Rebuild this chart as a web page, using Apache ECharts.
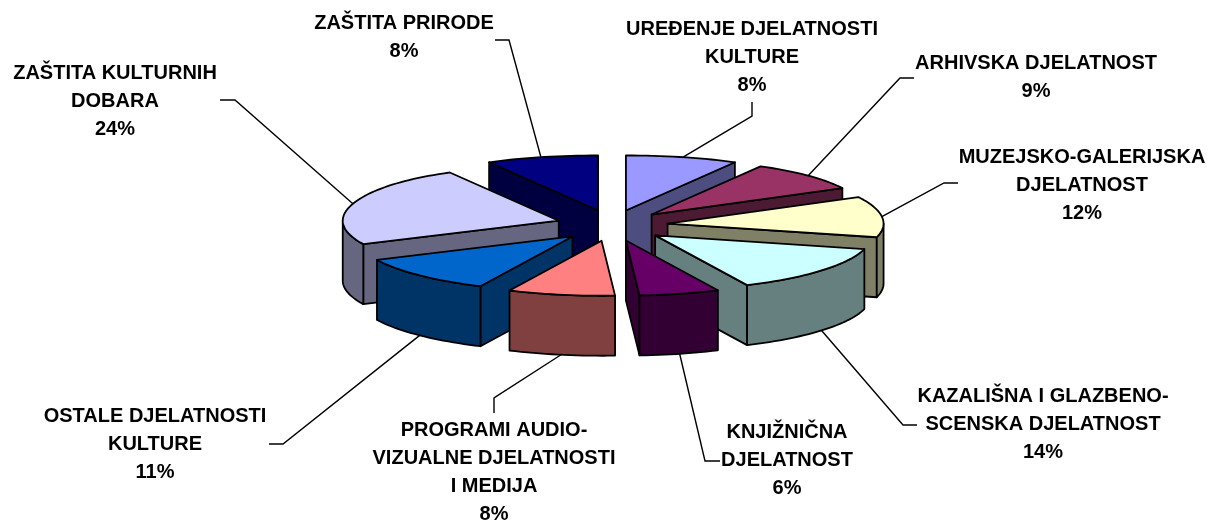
<!DOCTYPE html>
<html>
<head>
<meta charset="utf-8">
<style>
  html, body { margin: 0; padding: 0; background: #fff; }
  #chart { width: 1208px; height: 526px; }
</style>
<script src="https://cdn.jsdelivr.net/npm/echarts@6/dist/echarts.min.js"></script>
</head>
<body>
<div id="chart"></div>
<script>
// clockwise from 12 o'clock
const categories = [
  'UREĐENJE DJELATNOSTI\nKULTURE',
  'ARHIVSKA DJELATNOST',
  'MUZEJSKO-GALERIJSKA\nDJELATNOST',
  'KAZALIŠNA I GLAZBENO-\nSCENSKA DJELATNOST',
  'KNJIŽNIČNA\nDJELATNOST',
  'PROGRAMI AUDIO-\nVIZUALNE DJELATNOSTI\nI MEDIJA',
  'OSTALE DJELATNOSTI\nKULTURE',
  'ZAŠTITA KULTURNIH\nDOBARA',
  'ZAŠTITA PRIRODE'
];
const shares = [8, 9, 12, 14, 6, 8, 11, 24, 8];
const topColors = ['#9999FF', '#993366', '#FFFFCC', '#CCFFFF', '#660066', '#FF8080', '#0066CC', '#CCCCFF', '#000080'];
const sideColors = ['#4D4D80', '#4D1A33', '#808066', '#668080', '#330033', '#804040', '#003366', '#666680', '#000040'];

// label centre and the bent end of each leader line
const labelPos = [[752, 29], [1036, 63], [1082, 157], [1043, 396], [787, 432], [494, 430], [155, 416], [115, 73], [404, 23]];
const leaderEnds = [
  [[752, 102], [752, 116]],
  [[914, 78], [900, 78]],
  [[958, 183], [944, 183]],
  [[917, 425], [903, 425]],
  [[720, 461], [705, 461]],
  [[494, 413], [494, 398]],
  [[269, 444], [283, 444]],
  [[220, 100], [235, 100]],
  [[495, 40], [509, 40]]
];

const cx = 612, cy = 225.5;     // pie centre
const rx = 216, ry = 55;        // top ellipse
const ex = 56, ey = 15.5;       // explosion
const depth = 60;
const lineH = 28;
const total = shares.reduce((a, b) => a + b, 0);

function pt(ox, oy, a) {
  // back of the pie reads a bit wider in the original
  const back = Math.max(Math.cos(a), 0);
  const k = 1 + 0.07 * back * back * back;
  return [ox + rx * k * Math.sin(a), oy - ry * Math.cos(a)];
}
function down(p) {
  return [p[0], p[1] + depth];
}
function arc(ox, oy, a0, a1) {
  const pts = [];
  const n = Math.max(2, Math.ceil((a1 - a0) / 0.03));
  for (let i = 0; i <= n; i++) pts.push(pt(ox, oy, a0 + (a1 - a0) * i / n));
  return pts;
}
function poly(points, fill) {
  return {
    type: 'polygon',
    shape: { points: points },
    style: { fill: fill, stroke: '#000', lineWidth: 1.8, lineJoin: 'round' }
  };
}

let acc = 0;
const slices = shares.map(function (v, i) {
  const a0 = acc / total * Math.PI * 2;
  acc += v;
  const a1 = acc / total * Math.PI * 2;
  return { i: i, a0: a0, a1: a1, mid: (a0 + a1) / 2 };
});
// back slices are painted first
const order = slices.slice().sort(function (p, q) {
  return Math.cos(q.mid) - Math.cos(p.mid);
});

function renderSlice(params, api) {
  const s = slices[api.value(0)];
  const ox = cx + ex * Math.sin(s.mid);
  const oy = cy - ey * Math.cos(s.mid);
  const apex = [ox, oy];
  const children = [];

  // cut faces, only the ones turned towards the viewer
  if (Math.sin(s.a0) < -1e-6) {
    const p = pt(ox, oy, s.a0);
    children.push(poly([apex, p, down(p), down(apex)], sideColors[s.i]));
  }
  if (Math.sin(s.a1) > 1e-6) {
    const p = pt(ox, oy, s.a1);
    children.push(poly([apex, p, down(p), down(apex)], sideColors[s.i]));
  }
  // outer wall, front half of the ellipse only
  const w0 = Math.max(s.a0, Math.PI / 2);
  const w1 = Math.min(s.a1, Math.PI * 1.5);
  if (w1 > w0) {
    const top = arc(ox, oy, w0, w1);
    children.push(poly(top.concat(top.map(down).reverse()), sideColors[s.i]));
  }
  children.push(poly([apex].concat(arc(ox, oy, s.a0, s.a1)), topColors[s.i]));
  return { type: 'group', children: children };
}

function renderLabel(params, api) {
  const idx = api.value(0);
  const s = slices[idx];
  const ox = cx + ex * Math.sin(s.mid);
  const oy = cy - ey * Math.cos(s.mid);
  let anchor = pt(ox, oy, s.mid);
  if (Math.cos(s.mid) < 0) anchor = down(anchor);
  return {
    type: 'group',
    children: [
      {
        type: 'polyline',
        shape: { points: leaderEnds[idx].concat([anchor]) },
        style: { fill: null, stroke: '#000', lineWidth: 1.4 }
      },
      {
        type: 'text',
        style: {
          x: labelPos[idx][0],
          y: labelPos[idx][1] - lineH / 2,
          text: categories[idx] + '\n' + shares[idx] + '%',
          align: 'center',
          verticalAlign: 'top',
          lineHeight: lineH,
          fill: '#000',
          font: 'bold 20px "Liberation Sans", Arial, sans-serif'
        }
      }
    ]
  };
}

const chart = echarts.init(document.getElementById('chart'), null, { renderer: 'canvas' });
chart.setOption({
  animation: false,
  backgroundColor: '#fff',
  series: [
    {
      type: 'custom',
      coordinateSystem: 'none',
      renderItem: renderSlice,
      silent: true,
      data: order.map(function (s) { return [s.i, shares[s.i]]; })
    },
    {
      type: 'custom',
      coordinateSystem: 'none',
      renderItem: renderLabel,
      silent: true,
      data: slices.map(function (s) { return [s.i, shares[s.i]]; })
    }
  ]
});
</script>
</body>
</html>
